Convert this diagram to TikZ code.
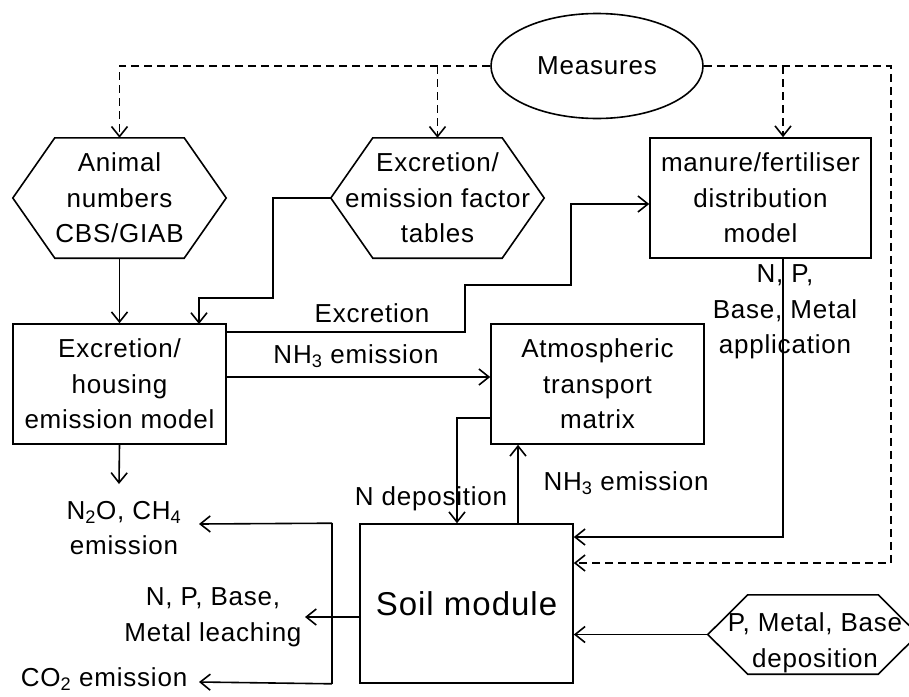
\documentclass[tikz,border=0pt]{standalone}
\usepackage{fontspec}
\setmainfont{Liberation Sans}[LetterSpace=3]
\usetikzlibrary{arrows.meta,shapes.geometric}
\newcommand\hexpath[2]{\draw[ln] (#1.west) -- ([xshift=#2]#1.north west) -- ([xshift=-#2]#1.north east) -- (#1.east) -- ([xshift=-#2]#1.south east) -- ([xshift=#2]#1.south west) -- cycle;}
\begin{document}
\begin{tikzpicture}[x=1pt,y=-1pt,
  ln/.style={line width=1.6pt},
  arr/.style={ln,-{Straight Barb[length=10pt,width=16pt]}},
  dln/.style={ln,dash pattern=on 8pt off 5pt},
  darr/.style={arr,dash pattern=on 8pt off 5pt},
  txt/.style={align=center,inner sep=0pt,font=\fontsize{26}{35.5}\selectfont},
  box/.style={txt,draw,ln,rectangle},
  hexn/.style={txt,rectangle},
  ell/.style={txt,draw,ln,ellipse,minimum width=212pt,minimum height=105pt}
]
\useasboundingbox (0,0) rectangle (909,696);
\clip (0,0) rectangle (909,696);

% nodes
\node[ell] (meas) at (597,66) {Measures};
\node[hexn,minimum width=213pt,minimum height=120pt] (animal) at (119.5,198) {Animal\\numbers\\CBS/GIAB};
\hexpath{animal}{42pt}
\node[hexn,minimum width=213pt,minimum height=120pt] (tables) at (437.5,198) {Excretion/\\emission factor\\tables};
\hexpath{tables}{42pt}
\node[box,minimum width=221pt,minimum height=120pt] (manure) at (760.5,198) {manure/fertiliser\\distribution\\model};
\node[box,minimum width=213pt,minimum height=120pt] (exc) at (119.5,384) {Excretion/\\housing\\emission model};
\node[box,minimum width=213pt,minimum height=120pt] (atm) at (597.5,384) {Atmospheric\\transport\\matrix};
\node[box,minimum width=213pt,minimum height=159pt,font=\fontsize{33}{40}\selectfont] (soil) at (466.5,603.5) {Soil module};
\node[hexn,minimum width=210pt,minimum height=79pt] (dep) at (813,634.5) {};
\hexpath{dep}{40pt}
\node[txt] (deptxt) at (815,643) {P, Metal, Base\\deposition};

% coordinates
\coordinate (mx) at (783,0);
\coordinate (rd) at (891,563);
\coordinate (ex1) at (465,332);
\coordinate (ex2) at (571,204);
\coordinate (nh) at (0,377);
\coordinate (nd) at (457,418);
\coordinate (ne) at (518,0);
\coordinate (ma) at (0,537);
\coordinate (n2oa) at (119,484);
\coordinate (vx) at (332,0);
\coordinate (n2otip) at (199,524);
\coordinate (co2tip) at (199,682);
\coordinate (lt) at (305,617);

% dashed measures connectors
\draw[darr] (meas.west) -| (animal.north);
\draw[darr] (tables.north |- meas.west) -- (tables.north);
\draw[darr] (mx |- meas.east) -- (mx |- manure.north);
\draw[darr] (meas.east) -| (rd) -- (soil.east |- rd);

% solid connectors
\draw[arr] (animal.south) -- (exc.north);
\draw[arr] (tables.west) -- (273,198) -- (273,298) -- (199,298) -- (199,324);
\draw[arr] (exc.east |- ex1) -- (ex1) -- (465,285) -| (ex2) -- (manure.west |- ex2);
\draw[arr] (exc.east |- nh) -- (atm.west |- nh);
\draw[arr] (atm.west |- nd) -- (nd) -- (nd |- soil.north);
\draw[arr] (ne |- soil.north) -- (ne |- atm.south);
\draw[arr] (mx |- manure.south) |- (soil.east |- ma);
\draw[arr] (dep.west) -- (soil.east |- dep.west);
\draw[arr] (exc.south) -- (n2oa);
\draw[ln] (vx |- soil.north) -- (vx |- soil.south);
\draw[arr] (vx |- soil.north) -- (n2otip);
\draw[arr] (vx |- soil.south) -- (co2tip);
\draw[arr] (soil.west |- lt) -- (lt);

% labels
\node[txt,anchor=base] (lexc) at (372,322) {Excretion};
\node[txt,anchor=base] (lnh1) at (356,363) {NH\textsubscript{3} emission};
\node[txt,anchor=base] (lnh2) at (626,490) {NH\textsubscript{3} emission};
\node[txt,anchor=base] (lnd) at (431,505) {N deposition};
\node[txt] (lapp) at (785,312) {N, P,\\Base, Metal\\application};
\node[txt] (ln2o) at (124,528) {N\textsubscript{2}O, CH\textsubscript{4}\\emission};
\node[txt] (lleach) at (213,617) {N, P, Base,\\Metal leaching};
\node[txt,anchor=base] (lco2) at (104,686) {CO\textsubscript{2} emission};
\end{tikzpicture}
\end{document}
